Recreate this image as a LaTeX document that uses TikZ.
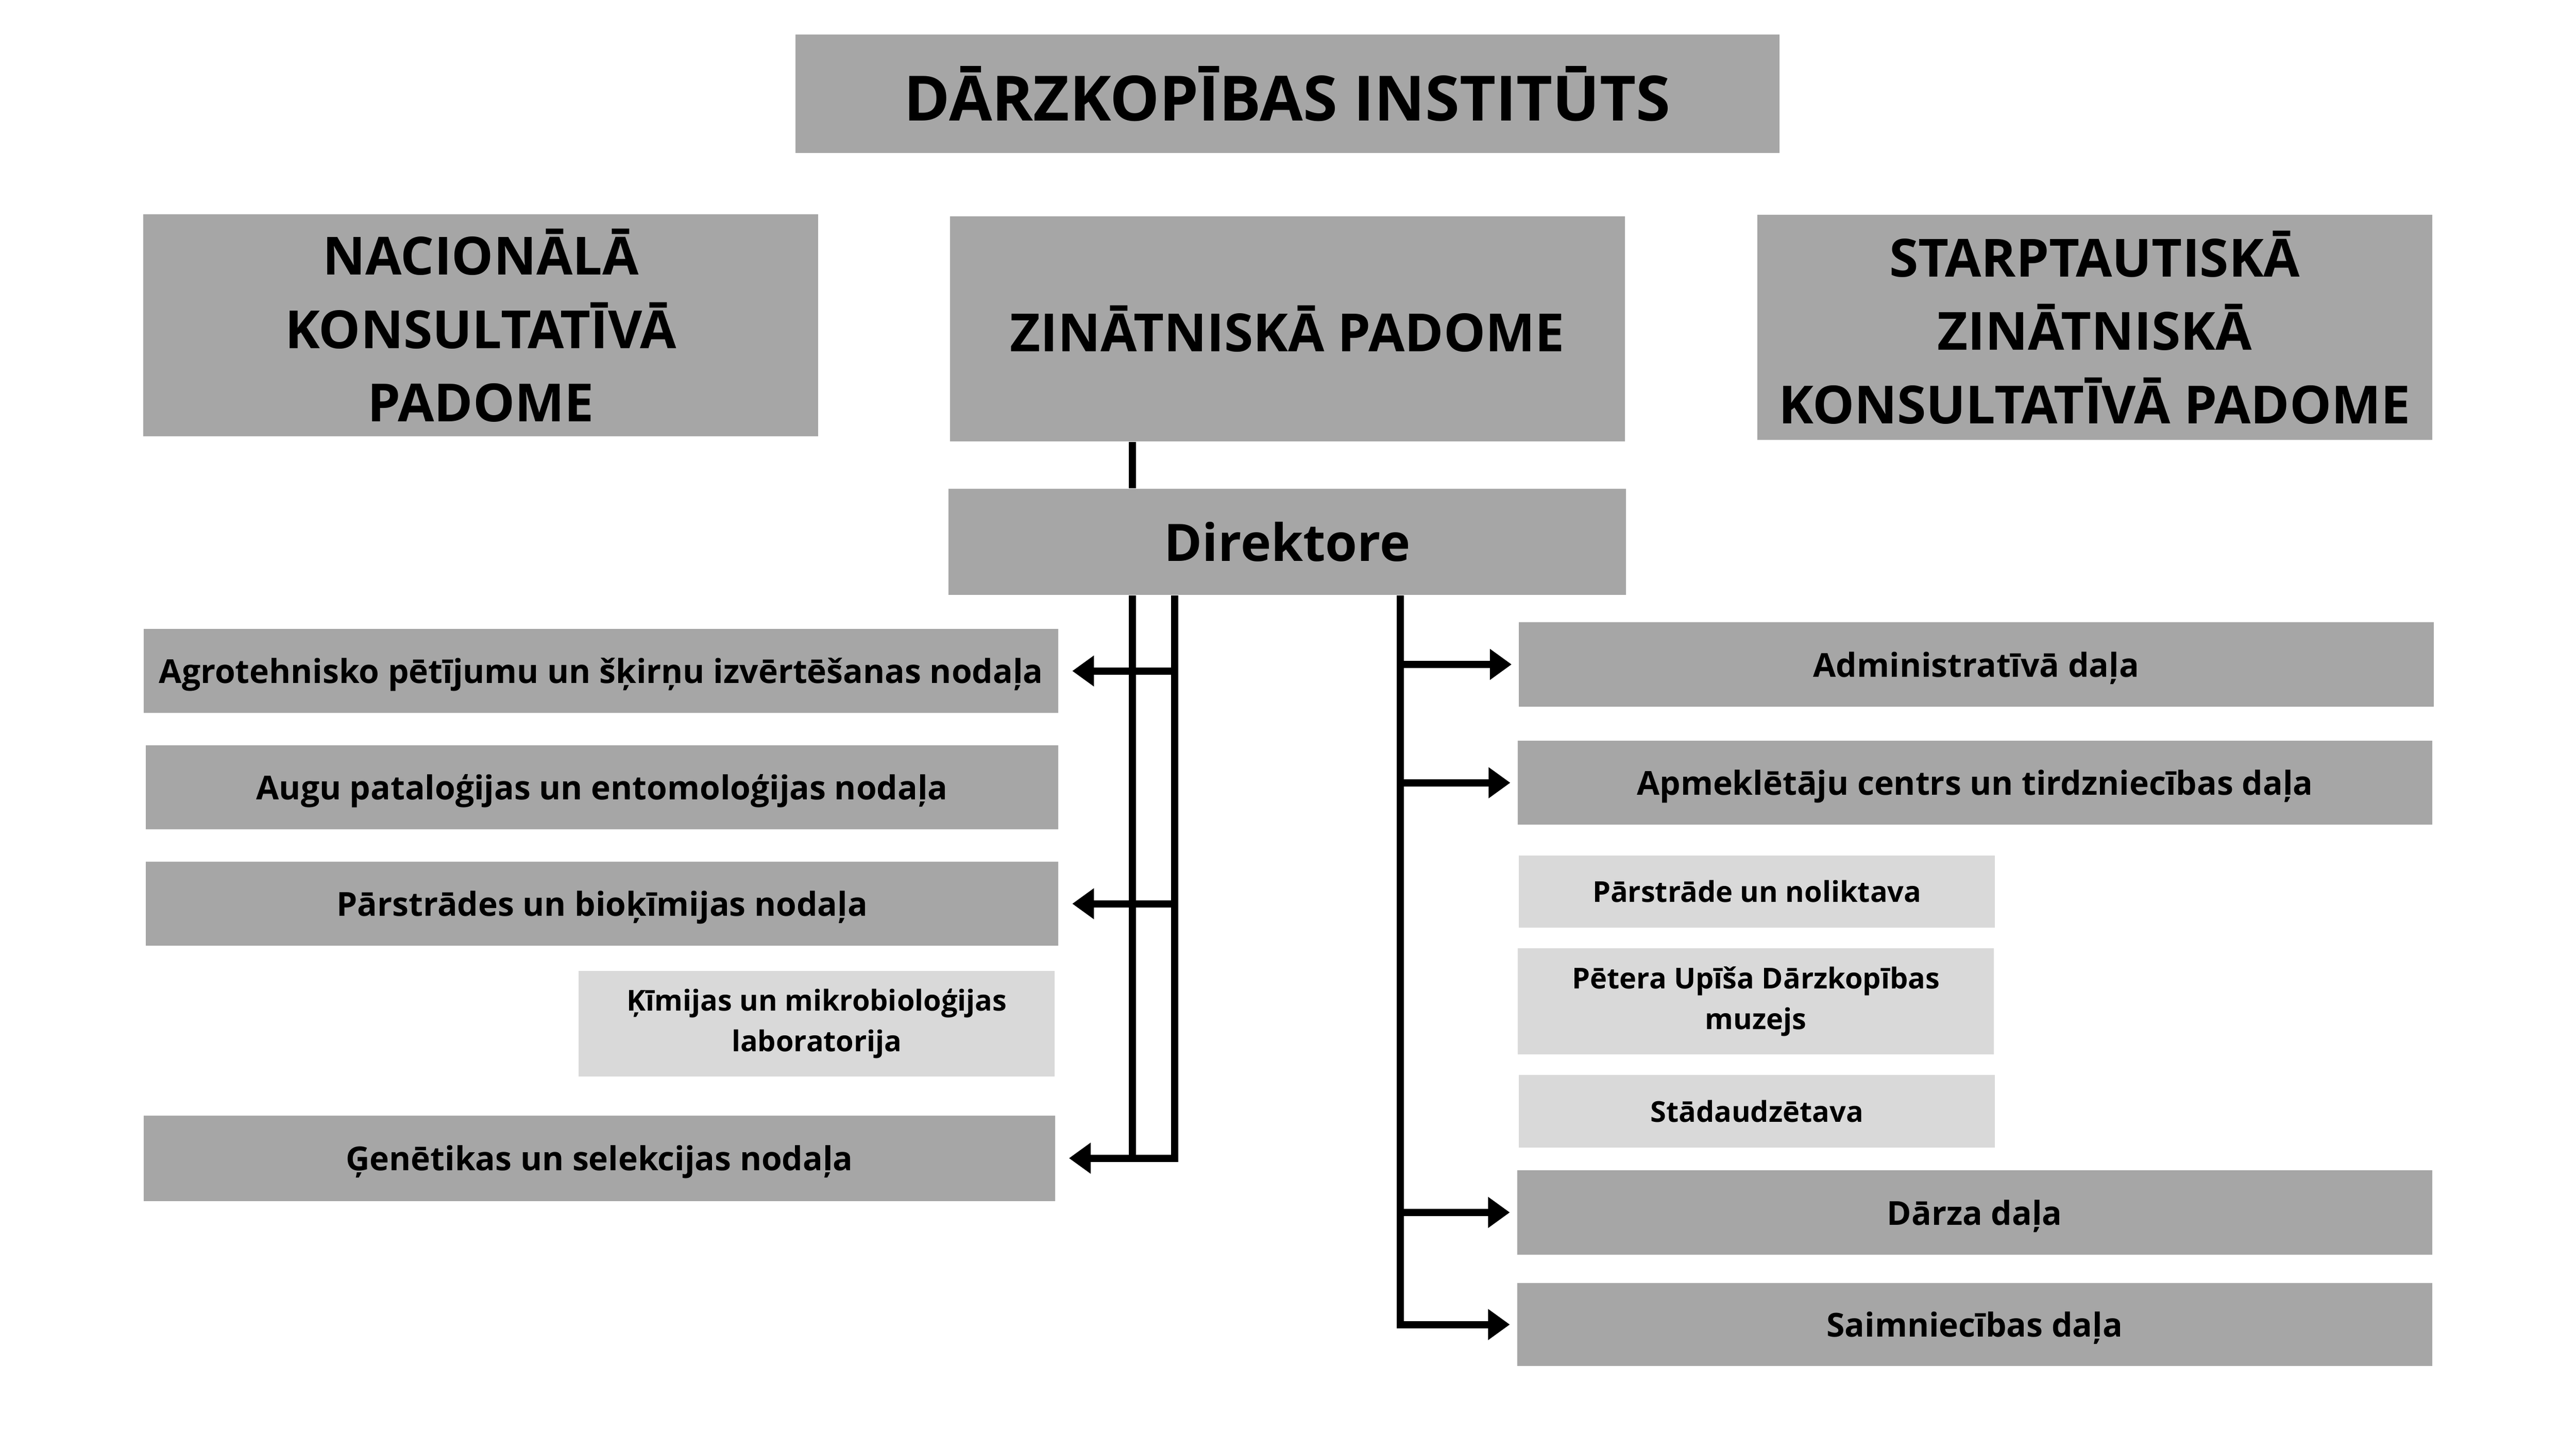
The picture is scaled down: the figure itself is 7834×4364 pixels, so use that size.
\documentclass[tikz,border=0pt]{standalone}
\usepackage{fontspec}
\setmainfont{Open Sans}
\usetikzlibrary{positioning, calc, arrows.meta}
\definecolor{boxdark}{HTML}{A6A6A6}
\definecolor{boxlight}{HTML}{D9D9D9}
\newcommand\ftitle{\bfseries\fontsize{19}{23}\selectfont}
\newcommand\fhead{\bfseries\fontsize{16}{22.3}\selectfont}
\newcommand\fdir{\bfseries\fontsize{15.7}{19}\selectfont}
\newcommand\fdept{\bfseries\fontsize{10.05}{12.5}\selectfont}
\newcommand\funit{\bfseries\fontsize{8.75}{12.3}\selectfont}
\tikzset{dbox/.style={fill=boxdark, inner sep=0pt, align=center, text=black}}
\tikzset{lbox/.style={fill=boxlight, inner sep=0pt, align=center, text=black, font=\funit, minimum width=144.8pt}}
\tikzset{dept/.style={dbox, font=\fdept, minimum width=278.2pt, minimum height=25.6pt, text height=8.2pt, text depth=0.6pt}}
\tikzset{head/.style={dbox, font=\fhead, minimum width=205.3pt, minimum height=68.5pt}}
\tikzset{conn/.style={draw, line width=2.2pt}}
\tikzset{arr/.style={conn, -{Triangle[length=6.6pt, width=9pt]}}}

\begin{document}
\begin{tikzpicture}[x=0.1pt, y=-0.1pt]
	\useasboundingbox (0,0) rectangle (7834,4364);
	% top row
	\node[dbox, font=\ftitle, minimum width=299.2pt, minimum height=36.1pt] (inst) at (3915,285) {DĀRZKOPĪBAS INSTITŪTS};
	\node[head, minimum height=67.5pt] (nac) at (1462,990) {NACIONĀLĀ\\KONSULTATĪVĀ\\PADOME};
	\node[head] (zin) at (3915,1000) {ZINĀTNISKĀ PADOME};
	\node[head] (starpt) at (6370,996) {STARPTAUTISKĀ\\ZINĀTNISKĀ\\KONSULTATĪVĀ PADOME};
	\node[dbox, font=\fdir, minimum width=206pt, minimum height=32.3pt] (dir) at (3915,1648) {Direktore};
	% left column
	\node[dept] (agro) at (1828,2041) {Agrotehnisko pētījumu un šķirņu izvērtēšanas nodaļa};
	\node[dept, minimum width=277.6pt] (augu) at (1831,2395) {Augu pataloģijas un entomoloģijas nodaļa};
	\node[dept, minimum width=277.6pt] (par) at (1831,2749) {Pārstrādes un bioķīmijas nodaļa};
	\node[lbox, minimum height=32.2pt] (kim) at (2484,3114) {Ķīmijas un mikrobioloģijas\\laboratorija};
	\node[dept, minimum width=277.2pt, minimum height=26pt] (gen) at (1823,3523) {Ģenētikas un selekcijas nodaļa};
	% right column
	\node[dept, minimum height=25.7pt] (adm) at (6010,2021) {Administratīvā daļa};
	\node[dept] (apm) at (6006,2381) {Apmeklētāju centrs un tirdzniecības daļa};
	\node[lbox, minimum height=21.8pt] (nol) at (5343,2712) {Pārstrāde un noliktava};
	\node[lbox, minimum height=32.2pt] (muz) at (5340,3046) {Pētera Upīša Dārzkopības\\muzejs};
	\node[lbox, minimum height=22pt] (stad) at (5343,3380) {Stādaudzētava};
	\node[dept, minimum width=278.3pt, minimum height=25.7pt] (darz) at (6005,3688) {Dārza daļa};
	\node[dept, minimum width=278.3pt, minimum height=25.2pt] (saim) at (6005,4029) {Saimniecības daļa};
	% connectors
	\coordinate (l1) at (3444,0);
	\coordinate (l2) at (3572,0);
	\coordinate (r1) at (4259,0);
	\draw[conn] (zin.south -| l1) -- (dir.north -| l1);
	\draw[conn] (dir.south -| l1) -- (l1 |- gen.east);
	\draw[arr, shorten >=4pt] (dir.south -| l2) -- (l2 |- gen.east) -- (gen.east);
	\foreach \n in {agro, par}
		\draw[arr, shorten >=4pt] (l2 |- \n.east) -- (\n.east);
	\draw[arr, shorten >=2pt] (dir.south -| r1) |- (saim.west);
	\foreach \n in {adm, apm, darz}
		\draw[arr, shorten >=2pt] (r1 |- \n.west) -- (\n.west);
\end{tikzpicture}
\end{document}
